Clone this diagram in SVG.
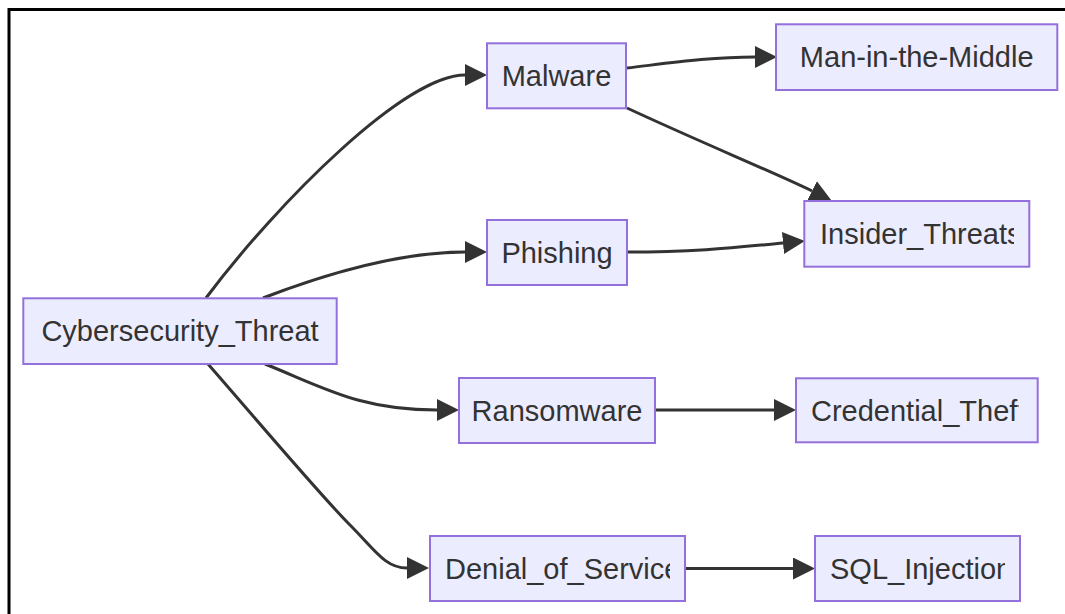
<svg xmlns="http://www.w3.org/2000/svg" width="1065" height="614" viewBox="0 0 1065 614">
<style>
.node rect{fill:#ECECFF;stroke:#9370DB;stroke-width:2}
.node text{font-family:"Liberation Sans",Arial,sans-serif;font-size:29px;fill:#333}
.c{text-anchor:middle}
.edge{fill:none;stroke:#333;stroke-width:3}
</style>
<defs>
<marker id="arrow" viewBox="0 0 22 22" refX="0" refY="11" markerWidth="22" markerHeight="22" markerUnits="userSpaceOnUse" orient="auto">
<path d="M0,0 L22,11 L0,22 z" fill="#333"/>
</marker>
<clipPath id="clipDenial"><rect x="445" y="536" width="225" height="65"/></clipPath>
<clipPath id="clipInsider"><rect x="819" y="201" width="195" height="66"/></clipPath>
<clipPath id="clipCred"><rect x="810" y="378" width="208.5" height="65"/></clipPath>
<clipPath id="clipSQL"><rect x="829" y="536" width="176" height="65"/></clipPath>
</defs>
<rect width="1065" height="614" fill="#fff"/>
<path d="M9,614 L9,9.5 L1065,9.5" fill="none" stroke="#000" stroke-width="3"/>
<g id="connectors">
<path class="edge" marker-end="url(#arrow)" d="M206,298 C278,202 405,75 465,75"/>
<path class="edge" marker-end="url(#arrow)" d="M263,298 C328,273 400,252 465,252"/>
<path class="edge" marker-end="url(#arrow)" d="M265,364 C325,388 360,410 437,410"/>
<path class="edge" marker-end="url(#arrow)" d="M208,364 C250,412 320,495 350,525 C375,550 385,568 407,568"/>
<path class="edge" marker-end="url(#arrow)" d="M627,68 C670,63 710,57 755,57"/>
<path class="edge" marker-end="url(#arrow)" d="M627,108 C700,142 780,175 812,191"/>
<path class="edge" marker-end="url(#arrow)" d="M627,252 C700,252 740,247 783,243"/>
<path class="edge" marker-end="url(#arrow)" d="M655,410 L774,410"/>
<path class="edge" marker-end="url(#arrow)" d="M685,568.5 L793,568.5"/>
</g>
<g id="Cybersecurity_Threat" class="node">
<rect x="23.3" y="298.3" width="313.4" height="65.7"/>
<text class="c" x="180" y="341">Cybersecurity_Threat</text>
</g>
<g id="Malware" class="node">
<rect x="487" y="43.3" width="139" height="65"/>
<text class="c" x="556.5" y="86">Malware</text>
</g>
<g id="Phishing" class="node">
<rect x="487" y="220" width="140" height="65"/>
<text class="c" x="557" y="262.5">Phishing</text>
</g>
<g id="Ransomware" class="node">
<rect x="459" y="378" width="196" height="65"/>
<text class="c" x="557" y="420.5">Ransomware</text>
</g>
<g id="Denial_of_Service" class="node">
<rect x="430" y="536" width="255" height="65"/>
<text x="445" y="578.5" clip-path="url(#clipDenial)">Denial_of_Service</text>
</g>
<g id="Man-in-the-Middle" class="node">
<rect x="776" y="24.3" width="281.3" height="65.7"/>
<text class="c" x="916.7" y="67">Man-in-the-Middle</text>
</g>
<g id="Insider_Threats" class="node">
<rect x="804.3" y="201" width="225" height="65.7"/>
<text x="820" y="244" clip-path="url(#clipInsider)">Insider_Threats</text>
</g>
<g id="Credential_Theft" class="node">
<rect x="796" y="378.3" width="241.7" height="64"/>
<text x="811" y="420.5" clip-path="url(#clipCred)">Credential_Theft</text>
</g>
<g id="SQL_Injection" class="node">
<rect x="815" y="536" width="205" height="65"/>
<text x="830" y="578.5" clip-path="url(#clipSQL)">SQL_Injection</text>
</g>
</svg>
